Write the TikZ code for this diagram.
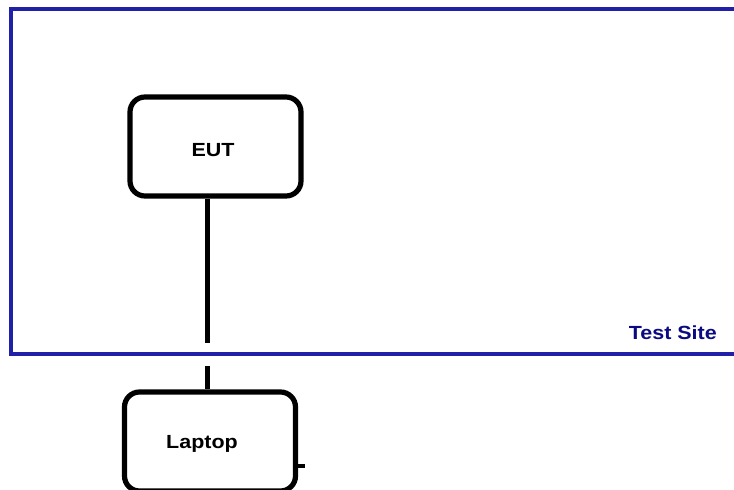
\documentclass[tikz,border=0pt]{standalone}
\usepackage{fontspec}
\setmainfont{Liberation Sans}
\definecolor{siteblue}{RGB}{32,32,168}
\definecolor{sitelabel}{RGB}{10,10,130}
\newcommand{\wide}[1]{\scalebox{1.13}[1]{#1}}
\begin{document}
\begin{tikzpicture}[x=1pt,y=-1pt,
  unit/.style={draw=black, line width=5.2pt, rounded corners=15pt,
    minimum width=171pt, minimum height=99pt, inner sep=0pt},
  caption/.style={font=\bfseries\fontsize{19}{22}\selectfont, inner sep=0pt},
  cable/.style={line width=5.5pt, draw=black}]
  \useasboundingbox (0,0) rectangle (734,490);
  \clip (0,0) rectangle (734,490);
  \fill[white] (0,0) rectangle (734,490);
  % test site enclosure
  \draw[siteblue, line width=4.5pt] (760,9) -- (11,9) -- (11,354) -- (760,354);
  \node[caption, text=sitelabel, anchor=east] (site) at (717,333) {\wide{Test Site}};
  % equipment
  \node[unit] (eut) at (215.5,146.5) {};
  \node[caption] (eutname) at (213,150) {\wide{EUT}};
  \node[unit] (laptop) at (210,441.5) {};
  \node[caption] (laptopname) at (202,444) {\wide{Laptop}};
  % cable through the enclosure wall
  \coordinate (in) at (207.5,343);
  \coordinate (out) at (207.5,366);
  \draw[cable] (in |- eut.south) -- (in);
  \draw[cable] (out) -- (out |- laptop.north);
  % port stub on the laptop
  \coordinate (port) at (305,466);
  \draw[line width=3.5pt] (port -| laptop.east) -- (port);
\end{tikzpicture}
\end{document}
